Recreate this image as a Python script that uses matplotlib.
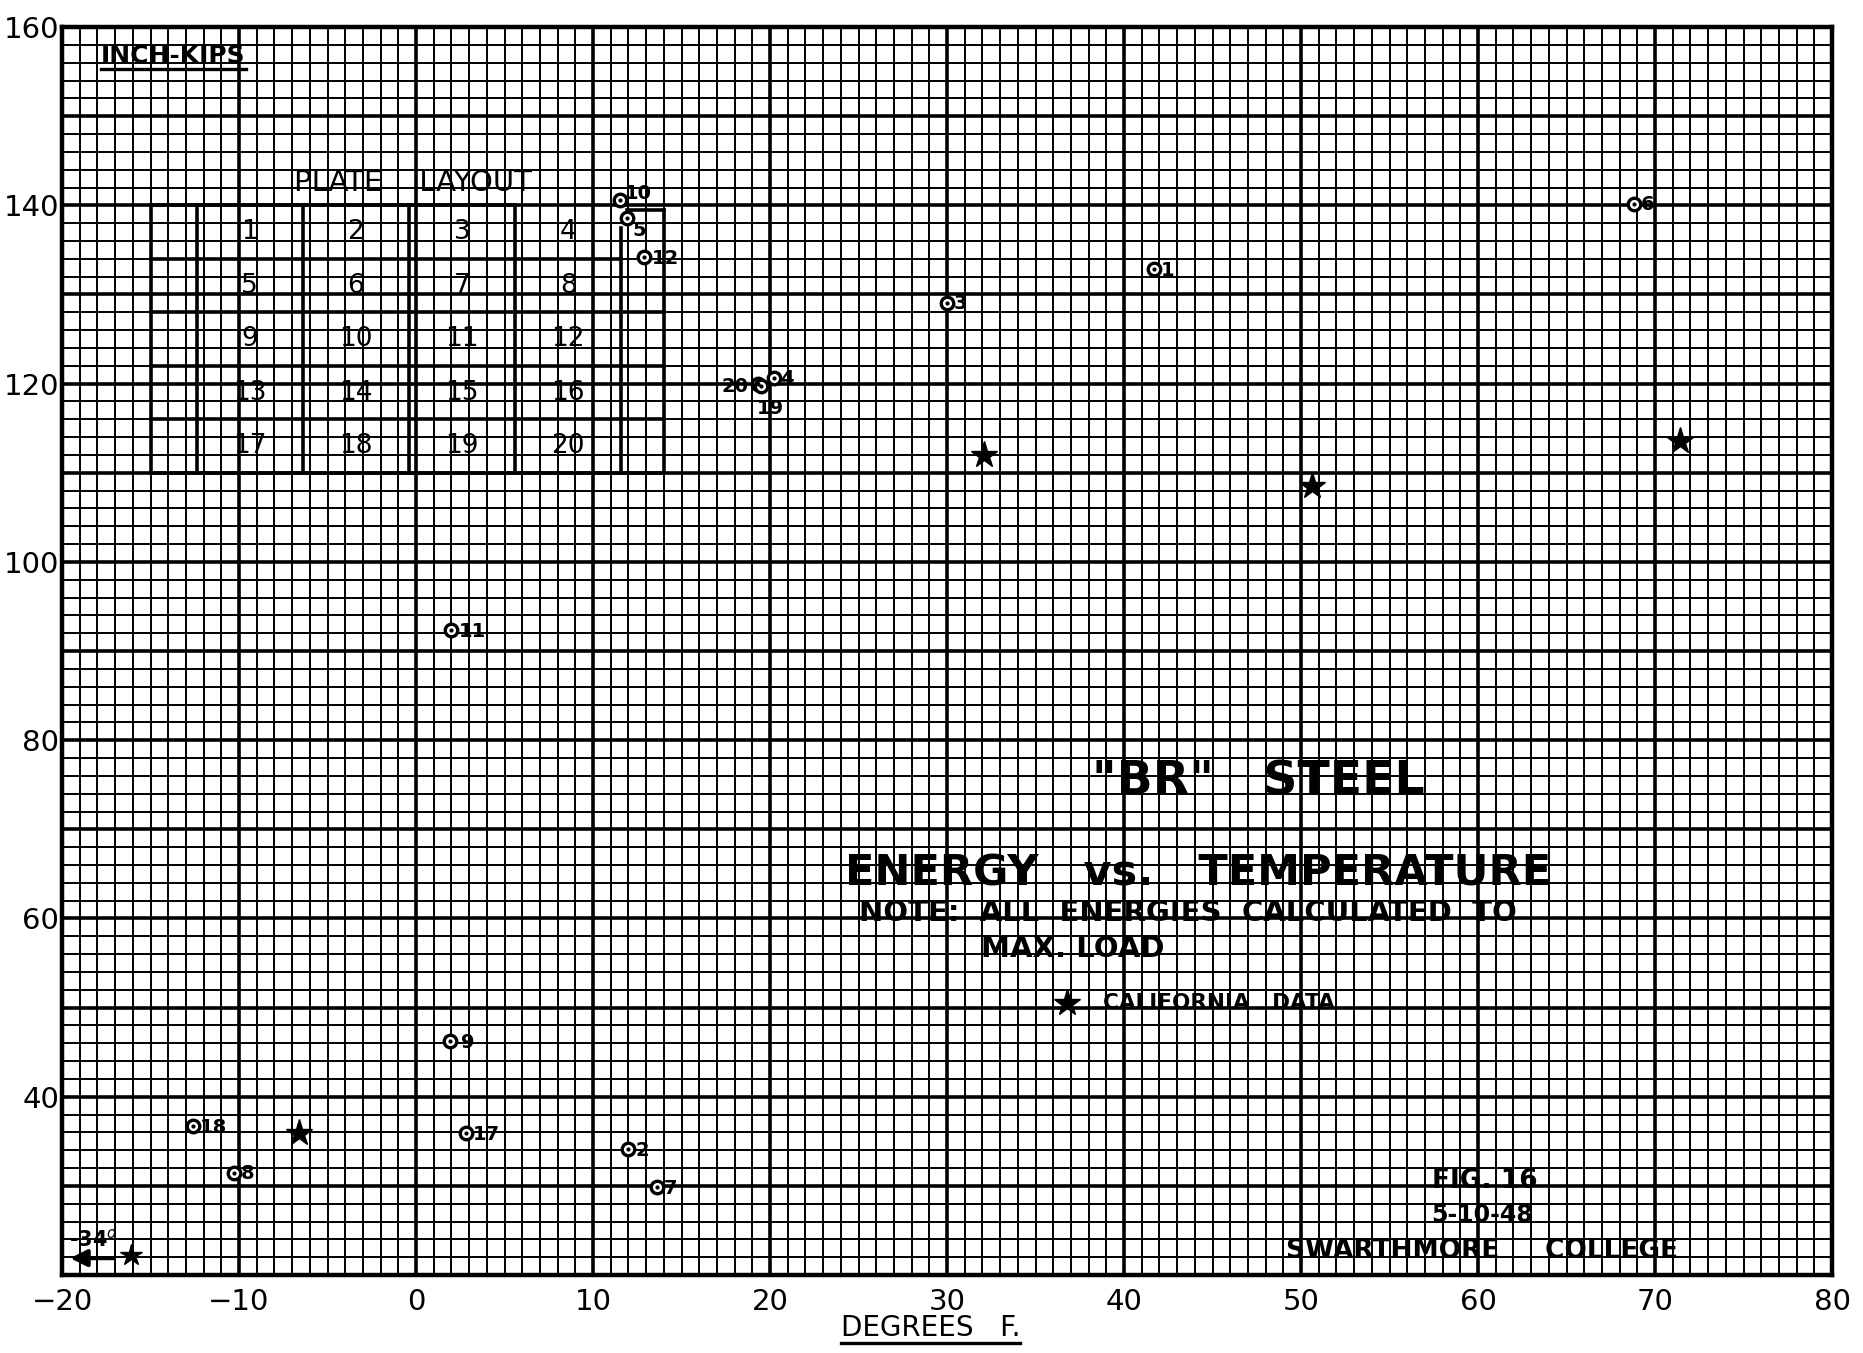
import matplotlib
matplotlib.use("Agg")
import matplotlib.pyplot as plt
from matplotlib.lines import Line2D

# Test plates: temperature (deg F) vs energy to max load (inch-kips)
plate_ids = ["10", "5", "12", "1", "3", "6", "4", "20", "19", "11",
             "9", "17", "18", "8", "2", "7"]
temps = [11.5, 11.9, 12.9, 41.7, 30.0, 68.8, 20.2, 19.3, 19.5, 2.0,
         1.9, 2.8, -12.6, -10.3, 12.0, 13.6]
energy = [140.6, 138.6, 134.2, 132.9, 129.1, 140.2, 120.6, 120.0, 119.7, 92.4,
          46.3, 35.9, 36.7, 31.5, 34.1, 29.9]

# California data (stars)
cal_temps = [32.1, 50.6, 71.4, -6.6]
cal_energy = [112.0, 108.5, 113.6, 35.9]
# one California point lies off the scale at -34 F
cal_off_temp = -34
cal_off_energy = 22.2

x_ticks = [-20, -10, 0, 10, 20, 30, 40, 50, 60, 70, 80]
y_labels = [40, 60, 80, 100, 120, 140, 160]

plate_grid = [["1", "2", "3", "4"],
              ["5", "6", "7", "8"],
              ["9", "10", "11", "12"],
              ["13", "14", "15", "16"],
              ["17", "18", "19", "20"]]

plt.rcParams['font.family'] = ['DejaVu Sans']

fig = plt.figure(figsize=(18.63, 13.53), dpi=100)
ax = fig.add_axes([0.0333, 0.0576, 0.9501, 0.9224])
ax.set_xlim(-20, 80)
ax.set_ylim(20, 160)

# graph paper grid
ax.set_xticks(x_ticks)
ax.set_xticks(range(-20, 81), minor=True)
ax.set_yticks(range(20, 161, 10))
ax.set_yticks(range(20, 161, 2), minor=True)
ax.set_yticklabels([str(v) if v in y_labels else "" for v in range(20, 161, 10)])
ax.grid(which="minor", color="black", lw=1.4)
ax.grid(which="major", color="black", lw=2.6)
ax.tick_params(which="both", length=0, labelsize=21)
ax.tick_params(axis="y", pad=2)
ax.tick_params(axis="x", pad=9)
for s in ax.spines.values():
    s.set_linewidth(3.2)
ax.set_axisbelow(True)

# label offsets in points for each plate number
offsets = {"10": (4, 5), "5": (4, -9), "12": (5, -1), "1": (5, -1), "3": (5, -1),
           "6": (5, -1), "4": (5, 0), "20": (-26, -2), "19": (-3, -16), "11": (5, -1),
           "9": (8, -1), "17": (5, -1), "18": (5, -1), "8": (5, -1), "2": (5, -1),
           "7": (5, -1)}

ax.plot(temps, energy, "o", ms=9, mfc="white", mec="black", mew=2.4, zorder=5)
ax.plot(temps, energy, ".", ms=4, color="black", zorder=6)
for pid, t, e in zip(plate_ids, temps, energy):
    dx, dy = offsets[pid]
    ax.annotate(pid, (t, e), xytext=(dx, dy), textcoords="offset points",
                fontsize=14, fontweight="bold", va="center", ha="left", zorder=7)

ax.plot(cal_temps, cal_energy, "*", ms=20, color="black", zorder=5)

# off-scale California point drawn at the left edge with an arrow
ax.plot(-16.1, cal_off_energy, "*", ms=16, color="black", zorder=5)
ax.annotate("", xy=(-19.7, cal_off_energy - 0.3), xytext=(-16.9, cal_off_energy - 0.3),
            arrowprops=dict(arrowstyle="-|>", color="black", lw=3, mutation_scale=25),
            zorder=6)
ax.text(-19.6, 24.0, "%d$^{o}$" % cal_off_temp, fontsize=15, fontweight="bold",
        va="center", ha="left", zorder=7)

# plate layout sketch
cols = [-15, -12.4, -6.4, -0.4, 5.6, 11.6, 14.0]
rows = [140, 134, 128, 122, 116, 110]
lw_t = 2.6
ax.plot([cols[0], cols[0]], [rows[-1], rows[0]], color="black", lw=lw_t)
for c in cols[1:5]:
    ax.plot([c, c], [rows[-1], rows[0]], color="black", lw=lw_t)
ax.plot([cols[5], cols[5]], [rows[-1], 137.5], color="black", lw=lw_t)
ax.plot([cols[6], cols[6]], [rows[-1], 139.5], color="black", lw=lw_t)
ax.plot([cols[0], cols[4]], [rows[0], rows[0]], color="black", lw=lw_t)
ax.plot([cols[5] + 0.3, cols[6]], [139.5, 139.5], color="black", lw=lw_t)
ax.plot([cols[0], cols[5]], [rows[1], rows[1]], color="black", lw=lw_t)
for r in rows[2:]:
    ax.plot([cols[0], cols[6]], [r, r], color="black", lw=lw_t)
for i, row in enumerate(plate_grid):
    for j, num in enumerate(row):
        ax.text((cols[j + 1] + cols[j + 2]) / 2, (rows[i] + rows[i + 1]) / 2, num,
                fontsize=19, ha="center", va="center", zorder=7)
ax.text(-0.2, 142.5, "PLATE    LAYOUT", fontsize=21, ha="center", va="center",
        zorder=7)

# captions
kips = ax.text(-17.8, 156.7, "INCH-KIPS", fontsize=18, fontweight="bold",
               ha="left", va="center", zorder=7)
ax.text(47.6, 75.3, '"BR"   STEEL', fontsize=34, fontweight="bold",
        ha="center", va="center", zorder=7)
ax.text(44.2, 65.1, "ENERGY   vs.   TEMPERATURE", fontsize=31, fontweight="bold",
        ha="center", va="center", zorder=7)
ax.text(25.0, 60.6, "NOTE:  ALL  ENERGIES  CALCULATED  TO", fontsize=21,
        fontweight="bold", ha="left", va="center", zorder=7)
ax.text(31.9, 56.6, "MAX. LOAD", fontsize=21, fontweight="bold",
        ha="left", va="center", zorder=7)
ax.plot([36.8], [50.5], "*", ms=20, color="black", zorder=8)
ax.text(38.8, 50.5, "CALIFORNIA   DATA", fontsize=15.5, fontweight="bold",
        ha="left", va="center", zorder=7)
ax.text(60.4, 30.6, "FIG. 16", fontsize=19, fontweight="bold",
        ha="center", va="center", zorder=7)
ax.text(60.2, 26.7, "5-10-48", fontsize=17, fontweight="bold",
        ha="center", va="center", zorder=7)
ax.text(60.2, 22.7, "SWARTHMORE     COLLEGE", fontsize=19, fontweight="bold",
        ha="center", va="center", zorder=7)

xl = fig.text(0.4994, 0.008, "DEGREES   F.", fontsize=20, ha="center", va="bottom")

# underline two labels
fig.canvas.draw()
r = fig.canvas.get_renderer()
for t in (kips, xl):
    bb = t.get_window_extent(r)
    x0, x1 = bb.x0 / fig.bbox.width, bb.x1 / fig.bbox.width
    yb = (bb.y0 - 1) / fig.bbox.height
    fig.add_artist(Line2D([x0, x1], [yb, yb], color="black", lw=2.4, zorder=9))

fig.savefig("out.png", dpi=100, facecolor="white")
